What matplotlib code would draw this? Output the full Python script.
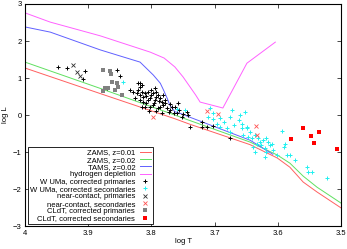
import matplotlib
matplotlib.use('Agg')
import matplotlib.pyplot as plt

plt.rcParams['font.family'] = ['Liberation Sans', 'DejaVu Sans']

# isochrone-like reference lines (logT, logL)
zams01_T = [4.0, 3.881, 3.763, 3.739, 3.644, 3.601, 3.581, 3.560, 3.538, 3.50]
zams01_L = [1.27, 0.58, -0.10, -0.25, -0.80, -1.16, -1.41, -1.81, -2.08, -2.51]
zams02_T = [4.0, 3.881, 3.763, 3.739, 3.644, 3.601, 3.581, 3.560, 3.538, 3.50]
zams02_L = [1.43, 0.72, 0.00, -0.15, -0.73, -1.08, -1.30, -1.65, -1.95, -2.38]
tams_T = [4.0, 3.960, 3.881, 3.818, 3.797, 3.786, 3.781, 3.775, 3.771, 3.763,
          3.752, 3.739, 3.644, 3.608]
tams_L = [2.38, 2.24, 1.76, 1.43, 1.08, 0.86, 0.68, 0.45, 0.27, 0.09,
          0.03, -0.06, -0.68, -1.06]
hdep_T = [4.0, 3.960, 3.881, 3.802, 3.780, 3.763, 3.750, 3.730, 3.723, 3.687,
          3.649, 3.604]
hdep_L = [2.76, 2.51, 2.14, 1.70, 1.54, 1.30, 1.03, 0.54, 0.35, 0.19,
          1.40, 1.97]

# W UMa primaries
wp_T = [3.948, 3.934, 3.905, 3.908, 3.854, 3.850, 3.818, 3.870,
        3.834, 3.829, 3.823, 3.821, 3.818, 3.815, 3.813, 3.810, 3.808, 3.805,
        3.802, 3.800, 3.797, 3.794, 3.792, 3.789, 3.786, 3.784, 3.781, 3.818,
        3.813, 3.808, 3.815, 3.810, 3.802, 3.797, 3.789, 3.786, 3.776, 3.773,
        3.771, 3.765, 3.752, 3.744, 3.821, 3.818, 3.815, 3.800, 3.794, 3.792,
        3.781, 3.778, 3.763, 3.757, 3.758, 3.767, 3.759, 3.750, 3.742,
        3.739, 3.720, 3.720, 3.712, 3.703, 3.676,
        3.826, 3.806, 3.796, 3.788, 3.779, 3.770, 3.804, 3.792, 3.784]
wp_L = [1.30, 1.27, 1.19, 0.97, 1.22, 1.05, 0.86, 0.73,
        0.68, 0.63, 0.59, 0.68, 0.54, 0.63, 0.50, 0.59, 0.52, 0.63,
        0.45, 0.54, 0.59, 0.41, 0.50, 0.54, 0.45, 0.36, 0.27, 0.41,
        0.36, 0.32, 0.23, 0.23, 0.23, 0.27, 0.18, 0.23, 0.18, 0.09,
        0.14, 0.05, -0.05, 0.09, 0.86, 0.77, 0.81, 0.68, 0.72, 0.63,
        0.54, 0.41, 0.23, 0.14, 0.32, 0.22, 0.05, 0.03, 0.00,
        -0.32, -0.19, -0.32, -0.32, -0.30, -0.62,
        0.47, 0.40, 0.33, 0.38, 0.33, 0.30, 0.12, 0.10, 0.05]

# W UMa secondaries
ws_T = [3.845, 3.760, 3.747,
        3.707, 3.702, 3.710, 3.691, 3.686, 3.676, 3.670, 3.662, 3.657, 3.649,
        3.644, 3.676, 3.691, 3.681, 3.660, 3.652, 3.697, 3.702, 3.673,
        3.657, 3.649, 3.655, 3.647, 3.641, 3.636, 3.631, 3.628, 3.623, 3.618,
        3.615, 3.612, 3.610, 3.626, 3.633, 3.639, 3.620, 3.618, 3.594, 3.589,
        3.591, 3.586, 3.581, 3.573, 3.554, 3.552, 3.546, 3.607, 3.602, 3.636,
        3.620, 3.522]
ws_L = [0.89, 0.15, 0.14,
        0.18, 0.05, -0.05, -0.09, -0.18, -0.05, -0.27, -0.14, -0.36, -0.32,
        -0.45, -0.45, -0.32, -0.36, 0.00, 0.09, -0.23, -0.11, 0.14,
        -0.23, -0.36, -0.54, -0.59, -0.63, -0.54, -0.63, -0.72, -0.68, -0.63,
        -0.72, -0.81, -0.77, -0.81, -0.77, -0.86, -0.90, -0.99, -0.43, -0.77,
        -0.86, -1.08, -1.08, -1.22, -1.40, -1.53, -1.53, -0.95, -1.08, -0.99,
        -1.13, -1.70]

# near-contact systems
ncp_T = [3.924, 3.913, 3.918]
ncp_L = [1.35, 1.05, 1.16]
ncs_T = [3.797, 3.712, 3.695, 3.634, 3.633]
ncs_L = [-0.05, 0.11, 0.03, -0.30, -0.54]

# CLdT
cp_T = [3.877, 3.866, 3.864, 3.862, 3.873, 3.877, 3.869, 3.854, 3.853,
        3.858, 3.847]
cp_L = [1.22, 1.19, 1.11, 0.89, 0.73, 0.65, 0.73, 0.86, 0.76, 0.68, 0.54]
cs_T = [3.560, 3.547, 3.535, 3.543, 3.579, 3.506]
cs_L = [-0.35, -0.57, -0.46, -0.76, -0.65, -0.92]

fig = plt.figure(figsize=(3.47, 2.49), dpi=100)
ax = fig.add_axes([0.072, 0.092, 0.911, 0.892])

lw = 0.7
ax.plot(zams01_T, zams01_L, color='#ff6060', lw=lw, label='ZAMS, z=0.01')
ax.plot(zams02_T, zams02_L, color='#60e060', lw=lw, label='ZAMS, z=0.02')
ax.plot(tams_T, tams_L, color='#6060ff', lw=lw, label='TAMS, z=0.02')
ax.plot(hdep_T, hdep_L, color='#ff60ff', lw=lw, label='hydrogen depletion')

ax.plot(wp_T, wp_L, '+', color='black', ms=3.5, mew=0.7, ls='none',
        label='W UMa, corrected primaries')
ax.plot(ws_T, ws_L, '+', color='#20f0f0', ms=3.5, mew=0.7, ls='none',
        label='W UMa, corrected secondaries')
ax.plot(ncp_T, ncp_L, 'x', color='#303030', ms=2.8, mew=0.6, ls='none',
        label='near-contact, primaries')
ax.plot(ncs_T, ncs_L, 'x', color='#ff5050', ms=2.8, mew=0.6, ls='none',
        label='near-contact, secondaries')
ax.plot(cp_T, cp_L, 's', color='#808080', ms=2.2, mew=0, ls='none',
        label='CLdT, corrected primaries')
ax.plot(cs_T, cs_L, 's', color='#ff0000', ms=3.0, mew=0, ls='none',
        label='CLdT, corrected secondaries')

ax.set_xlim(4.0, 3.5)
ax.set_ylim(-3, 3)
ax.set_xticks([4.0, 3.9, 3.8, 3.7, 3.6, 3.5])
ax.set_xticklabels(['4', '3.9', '3.8', '3.7', '3.6', '3.5'])
ax.set_yticks([-3, -2, -1, 0, 1, 2, 3])
ax.tick_params(direction='in', top=True, right=True, length=3, width=0.5,
               labelsize=5.5, pad=2.5)
for s in ax.spines.values():
    s.set_linewidth(0.8)
ax.set_xlabel('log T', fontsize=5.5)
ax.set_ylabel('log L', fontsize=5.5)
ax.yaxis.set_label_coords(-0.05, 0.5)
ax.xaxis.set_label_coords(0.5, -0.055)

leg = ax.legend(loc='lower left', bbox_to_anchor=(0.01, 0.01), borderaxespad=0,
                markerfirst=False, fontsize=5.5, handlelength=1.5,
                handletextpad=0.6, labelspacing=0.0, borderpad=0.2,
                fancybox=False, edgecolor='black', framealpha=1)
leg.get_frame().set_linewidth(0.6)

fig.savefig('out.png', dpi=100)
